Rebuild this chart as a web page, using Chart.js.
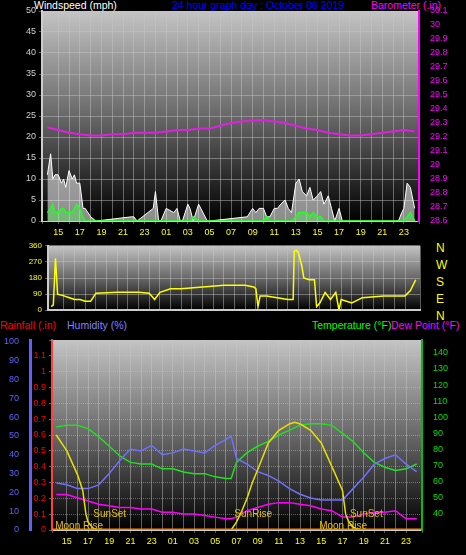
<!DOCTYPE html>
<html><head><meta charset="utf-8">
<script src="https://cdn.jsdelivr.net/npm/chart.js@4"></script>
<style>
body{margin:0;background:#000;width:466px;height:555px;overflow:hidden;font-family:"Liberation Sans",Arial,sans-serif;position:relative}
canvas{position:absolute;left:0}
.t{position:absolute;font-size:10.5px;white-space:nowrap;line-height:11px}
</style></head><body>
<div class="t" style="left:34px;top:0;color:#fff">Windspeed (mph)</div>
<div class="t" style="left:172px;top:0;color:#0000ff">24 hour graph day : October 06 2019</div>
<div class="t" style="left:371px;top:0;color:#ff00ff">Barometer (.in)</div>
<div class="t" style="left:0;top:320px;color:#ff0000">Rainfall (.in)</div>
<div class="t" style="left:67px;top:320px;color:#8080ff">Humidity (%)</div>
<div class="t" style="left:312px;top:320px;color:#00ff00">Temperature (°F)</div>
<div class="t" style="left:391px;top:320px;color:#ff00ff">Dew Point (°F)</div>
<div class="t" style="left:436px;top:240px;color:#ffff00;font-size:12px;line-height:17px">N<br>W<br>S<br>E<br>N</div>
<canvas id="c1" width="466" height="245" style="top:0"></canvas>
<canvas id="c2" width="466" height="80" style="top:238px"></canvas>
<canvas id="c3" width="466" height="225" style="top:330px"></canvas>
<script>
// hours since 00:00 of first day
const windTimes=[14,14.3,14.5,14.7,15,15.3,15.5,15.7,16,16.3,16.5,16.7,17,17.3,17.5,18,18.5,21.8,22,22.3,23.8,24,24.3,24.5,25,25.7,26,26.3,26.5,27,27.2,27.5,28,28.8,29,32.5,33,33.3,33.6,34,34.3,34.6,35,35.3,35.6,36,36.3,36.6,37,37.3,37.6,38,38.3,38.6,39,39.3,39.6,40,40.3,40.6,41,41.3,46.5,46.8,47,47.3,47.6,48];
const windGust=[11,16,10,11,11,9,10,8,12,10,11,9,9,3,3,1,0,1,1,0,3,7,0,0,3,2,3,0,0,4,3,0,4,0,0,1,3,2,3,3,1,1,3,3,4,5,3,2,9,10,7,6,8,5,6,7,4,6,3,0,3,0,0,2,3,9,8,3];
const windAvg=[2,3,4,2,2,3,3,2,2,2,3,4,3,1,0,0,0,0,0,0,0,0,0,0,0,0,0,0,0,0,0,1,0,0,0,0,0,0,0,0,1,0,0,0,0,0,0,0,1,2,2,2,1,2,1,1,0,0,0,0,0,0,0,0,0,1,2,0];
const baroTimes=[14,15,16,17,18,19,20,21,22,23,24,25,26,27,28,29,30,31,32,33,34,35,36,37,38,39,40,41,42,43,44,45,46,47,48];
const baro=[29.27,29.25,29.23,29.22,29.21,29.21,29.22,29.22,29.23,29.23,29.23,29.24,29.25,29.25,29.26,29.26,29.28,29.30,29.31,29.32,29.32,29.31,29.30,29.28,29.26,29.25,29.23,29.22,29.21,29.21,29.22,29.23,29.24,29.25,29.24];
const dirTimes=[13.8,14,14.2,14.4,15,15.5,16,16.5,17,17.5,18,20,22,23,23.5,24,25,26,28,30,32,32.8,33,33.2,33.4,34,35,36,36.5,36.6,36.8,37,37.3,37.5,38,38.5,38.7,39,39.5,40,40.5,40.8,41,42,43,45,47,47.5,48];
const dirVals=[20,30,290,90,80,70,60,60,50,50,95,100,100,95,60,100,120,120,130,140,140,130,120,20,80,80,70,60,60,330,335,320,250,180,170,170,20,40,100,60,100,0,60,40,70,80,80,110,170];
const hrTimes=[14,15,16,17,18,19,20,21,22,23,24,25,26,27,28,29,30,30.5,31,32,33,34,35,36,37,38,39,40,41,42,43,44,45,46,47,48];
const temp=[94,95,95,93,88,82,76,72,71,71,68,68,66,65,65,63,62,62,72,78,82,85,89,92,95,96,96,95,90,85,78,72,69,67,68,71];
const humidity=[25,24,22,22,24,30,37,43,42,45,40,41,43,42,41,45,48,50,38,35,31,29,26,22,19,17,16,16,16,22,28,35,38,40,35,31];
const dew=[52,52,50,48,46,45,44,44,43,43,41,41,40,40,39,38,37,37,38,42,44,46,47,47,46,45,43,42,38,38,40,41,41,42,37,37];
const sunTimes=[14,15,16,16.5,16.8,17,17.5,18,30.5,31,31.5,32,32.5,33,34,35,36,36.5,37,38,39,40,41,41.3,41.6,42,42.5];
const sunVals=[0.6,0.5,0.35,0.25,0.1,0.05,0.01,0,0,0.05,0.12,0.2,0.3,0.38,0.55,0.63,0.67,0.68,0.67,0.63,0.55,0.4,0.25,0.1,0.05,0.02,0];
const rainTimes=[13.6,48.5];
const rain=[0,0];

const pts=(t,v)=>t.map((x,i)=>({x,y:v[i]}));
const F='"Liberation Sans",Arial,sans-serif';
const grid={color:'rgba(200,200,200,0.45)',borderDash:[1,2],drawTicks:true,tickLength:3};
const bg={id:'bg',beforeDraw(c){const a=c.chartArea,x=c.ctx;const g=x.createLinearGradient(0,a.top,0,a.bottom);g.addColorStop(0,'#c4c4c4');g.addColorStop(0.5,'#686868');g.addColorStop(1,'#000');x.save();x.fillStyle=g;x.fillRect(a.left,a.top,a.right-a.left,a.bottom-a.top);x.restore();}};
const fit=w=>function(s){s.width=w;};
const xLab=v=>{const h=Math.round(v);return (h%2===1&&h<=47)?String(h%24).padStart(2,'0'):'';};
const base={responsive:false,animation:false,plugins:{legend:{display:false},tooltip:{enabled:false}},elements:{point:{radius:0},line:{borderWidth:1.5,tension:0}}};

new Chart(document.getElementById('c1'),{type:'line',plugins:[bg],
data:{datasets:[
{data:pts(baroTimes,baro),yAxisID:'yb',borderColor:'#e020e0',borderWidth:2},
{data:pts(windTimes,windAvg),yAxisID:'y',borderColor:'#20ff20',fill:'origin',backgroundColor:'rgba(80,255,80,0.35)'},
{data:pts(windTimes,windGust),yAxisID:'y',borderColor:'#ffffff',fill:'origin',backgroundColor:'rgba(255,255,255,0.55)',borderWidth:1}
]},
options:{...base,layout:{padding:{top:11,bottom:0}},
scales:{
x:{type:'linear',min:13.5,max:48.4,afterFit(s){s.height=24;},ticks:{stepSize:1,autoSkip:false,color:'#ffff00',font:{size:9,family:F},maxRotation:0,callback:xLab},grid:grid,border:{color:'#ccc'}},
y:{position:'left',min:0,max:50,afterFit:fit(42),ticks:{stepSize:5,color:'#d0d0d0',font:{size:9,family:F}},grid:grid,border:{color:'#ccc',width:2}},
yb:{position:'right',min:28.6,max:30.1,afterFit:fit(47),ticks:{stepSize:0.1,color:'#ff00ff',font:{size:9,family:F},callback:v=>+v.toFixed(1)},grid:{display:false},border:{color:'#ff00ff',width:2}}
}}});

new Chart(document.getElementById('c2'),{type:'line',plugins:[bg],
data:{datasets:[{data:pts(dirTimes,dirVals),borderColor:'#ffff00',borderWidth:1.5}]},
options:{...base,layout:{padding:{top:6,bottom:6}},
scales:{
x:{type:'linear',min:13.5,max:48.4,display:true,afterFit(s){s.height=0;},ticks:{display:false,stepSize:1},grid:{...grid,drawTicks:false},border:{color:'#ccc',width:2}},
y:{position:'left',min:0,max:360,afterFit:fit(48),ticks:{stepSize:90,color:'#ffff00',font:{size:8,family:F}},grid:grid,border:{color:'#ccc',width:2}},
y2:{position:'right',min:0,max:360,afterFit:fit(46),ticks:{display:false},grid:{display:false},border:{display:false}}
}}});

const labels3={id:'lab3',afterDatasetsDraw(c){const x=c.ctx,sx=c.scales.x,sy=c.scales.rain;x.save();x.font='10px '+F;x.fillStyle='#e0c000';
[[17.5,0.08,'SunSet'],[30.8,0.08,'SunRise'],[41.7,0.08,'SunSet'],[13.9,0.005,'Moon Rise'],[38.8,0.005,'Moon Rise']].forEach(([t,v,s])=>{x.fillText(s,sx.getPixelForValue(t),sy.getPixelForValue(v));});x.restore();}};
new Chart(document.getElementById('c3'),{type:'line',plugins:[bg,labels3],
data:{datasets:[
{data:pts(rainTimes,rain),yAxisID:'rain',borderColor:'#ff8000',borderWidth:3},
{data:pts(sunTimes,sunVals),yAxisID:'rain',borderColor:'#e8e000',borderWidth:1.5},
{data:pts(hrTimes,dew),yAxisID:'temp',borderColor:'#ff00ff'},
{data:pts(hrTimes,humidity),yAxisID:'hum',borderColor:'#7070ff'},
{data:pts(hrTimes,temp),yAxisID:'temp',borderColor:'#20e020'}
]},
options:{...base,layout:{padding:{top:10,bottom:0}},
scales:{
x:{type:'linear',min:13.6,max:48.5,afterFit(s){s.height=25;},ticks:{stepSize:1,autoSkip:false,color:'#ffff00',font:{size:9,family:F},maxRotation:0,callback:xLab},grid:grid,border:{color:'#ccc'}},
rain:{position:'left',weight:0,min:0,max:1.2,afterFit:fit(22),ticks:{stepSize:0.1,color:'#ff0000',font:{size:9,family:F},callback:v=>v===1.2?'':+v.toFixed(1)},grid:grid,border:{color:'#ff4040',width:2,dash:[1,1]}},
hum:{position:'left',weight:1,min:0,max:101,afterFit:fit(30),afterBuildTicks(s){s.ticks=[0,10,20,30,40,50,60,70,80,90,100].map(v=>({value:v}));},ticks:{color:'#6060ff',font:{size:9,family:F}},grid:{display:false},border:{color:'#6060ff',width:3}},
temp:{position:'right',min:30,max:148,afterFit:fit(44),afterBuildTicks(s){s.ticks=[40,50,60,70,80,90,100,110,120,130,140].map(v=>({value:v}));},ticks:{color:'#00e000',font:{size:9,family:F}},grid:{display:false},border:{color:'#00c000',width:2}}
}}});
</script></body></html>
